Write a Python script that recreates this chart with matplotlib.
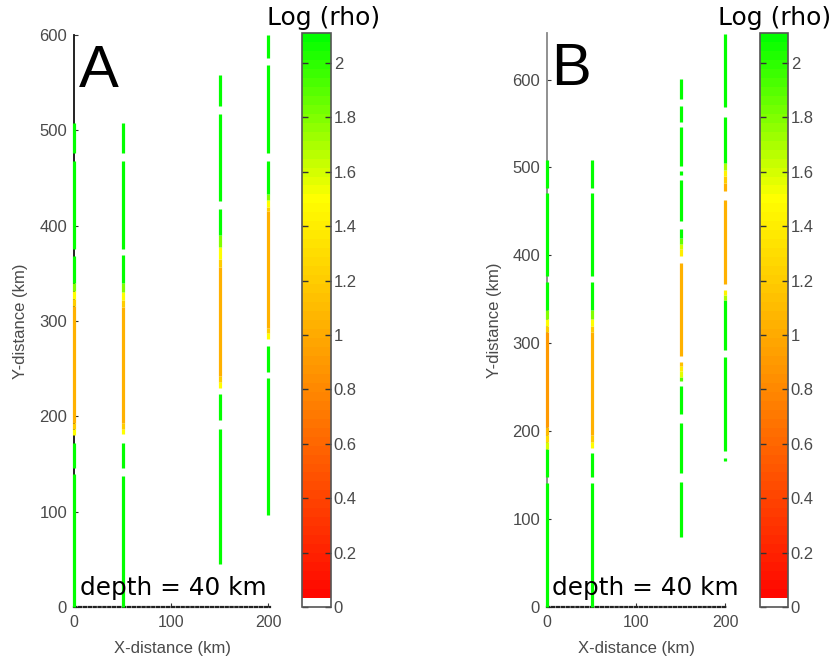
import matplotlib
matplotlib.use('Agg')
import matplotlib.pyplot as plt
import numpy as np
from matplotlib.collections import LineCollection
from matplotlib.colors import ListedColormap, Normalize
from matplotlib.cm import ScalarMappable

# ---------------- data ----------------
# station x positions (km)
stations = [0, 50, 150, 200]
G = 2.1  # saturated green
# segments per station: (y_bottom_km, y_top_km, log rho)
A_x0 = [(0, 139, G), (146, 172, G), (180, 187, 1.5), (187, 193, 1.2), (193, 316, 1.05),
        (316, 323, 1.2), (323, 331, 1.5), (331, 340, 1.8), (340, 368, G), (376, 468, G), (476, 508, G)]
A_x50 = [(0, 137, G), (146, 172, G), (181, 187, 1.5), (187, 193, 1.2), (193, 315, 1.05),
         (315, 322, 1.2), (322, 330, 1.5), (330, 340, 1.8), (340, 369, G), (376, 468, G), (476, 508, G)]
A_x150 = [(45, 187, G), (196, 223, G), (230, 236, 1.5), (236, 242, 1.2), (242, 357, 1.05),
          (357, 365, 1.2), (365, 378, 1.5), (378, 390, 1.8), (390, 418, G), (426, 517, G), (526, 558, G)]
A_x200 = [(96, 240, G), (246, 274, G), (281, 287, 1.5), (287, 293, 1.2), (293, 415, 1.05),
          (415, 420, 1.2), (420, 427, 1.5), (427, 433, 1.8), (433, 468, G), (476, 569, G), (576, 600, G)]

B_x0 = [(0, 141, G), (148, 180, G), (180, 188, 1.6), (188, 196, 1.3), (196, 205, 1.1), (205, 313, 0.9),
        (313, 320, 1.2), (320, 328, 1.5), (328, 338, 1.8), (338, 370, G), (377, 471, G), (477, 509, G)]
B_x50 = [(0, 141, G), (148, 175, G), (181, 188, 1.5), (188, 196, 1.2), (196, 313, 1.05),
         (313, 320, 1.2), (320, 328, 1.5), (328, 338, 1.8), (338, 370, G), (377, 471, G), (477, 509, G)]
B_x150 = [(80, 142, G), (152, 209, G), (220, 251, G), (257, 262, 1.9), (262, 268, 1.55), (268, 274, 1.4),
          (274, 279, 1.15), (286, 391, 1.05), (399, 407, 1.4), (407, 413, 1.6), (413, 420, 1.85),
          (420, 430, G), (439, 486, G), (492, 496, G), (502, 546, G), (552, 570, G), (578, 601, G)]
B_x200 = [(166, 170, G), (177, 284, G), (292, 349, G), (349, 355, 1.7), (355, 361, 1.45), (367, 463, 1.05),
          (473, 482, 1.05), (482, 490, 1.2), (490, 497, 1.45), (497, 505, 1.7), (505, 558, G), (569, 652, G)]

panelA = [A_x0, A_x50, A_x150, A_x200]
panelB = [B_x0, B_x50, B_x150, B_x200]

cbar_ticks = [0, 0.2, 0.4, 0.6, 0.8, 1.0, 1.2, 1.4, 1.6, 1.8, 2.0]
cbar_labels = ['0', '0.2', '0.4', '0.6', '0.8', '1', '1.2', '1.4', '1.6', '1.8', '2']
y_ticks = [0, 100, 200, 300, 400, 500, 600]
x_ticks = [0, 100, 200]

# ---------------- colormap ----------------
VMAX = 2.11
N = 64
cols = []
for i in range(N):
    v = (i + 0.5) / N * VMAX
    if i == 0:
        cols.append((1, 1, 1))
    elif v <= 1.5:
        cols.append((1, v / 1.5, 0))
    else:
        cols.append((max(0.0, 1 - (v - 1.5) / 0.6), 1, 0))
cmap = ListedColormap(cols)
norm = Normalize(0, VMAX)

# ---------------- figure ----------------
W, H = 832, 657
fig = plt.figure(figsize=(W / 100, H / 100), dpi=100)


def ax_px(l, t, r, b):
    return fig.add_axes([l / W, 1 - b / H, (r - l) / W, (b - t) / H])


TICKC = '#4a4a4a'
TF = 'Liberation Sans'


def make_panel(rect, ylim, data, letter, spinec, ylabx, cbrect, lbl_x):
    ax = ax_px(*rect)
    ax.set_xlim(0, 202)
    ax.set_ylim(0, ylim)
    segs, vals = [], []
    for x, pieces in zip(stations, data):
        for y0, y1, v in pieces:
            segs.append([(x, y0), (x, y1)])
            vals.append(v)
    lc = LineCollection(segs, cmap=cmap, norm=norm, linewidths=2.3, capstyle='butt', zorder=5)
    lc.set_array(np.array(vals))
    lc.set_clip_on(False)
    ax.add_collection(lc)
    for s in ['top', 'right']:
        ax.spines[s].set_visible(False)
    ax.spines['left'].set_color(spinec)
    ax.spines['left'].set_linewidth(1.3)
    ax.spines['bottom'].set_linestyle((0, (1, 1.2)))
    ax.spines['bottom'].set_linewidth(1.6)
    ax.spines['bottom'].set_color('#222222')
    ax.set_yticks(y_ticks)
    ax.set_xticks(x_ticks)
    ax.tick_params(direction='in', length=3, width=0.8, labelcolor=TICKC, color='#333333')
    ax.tick_params(axis='y', pad=5, labelsize=12)
    ax.tick_params(axis='x', pad=6, labelsize=11.5)
    for t in ax.get_xticklabels() + ax.get_yticklabels():
        t.set_fontfamily(TF)
    ax.set_xlabel('X-distance (km)', fontsize=12, color=TICKC, family=TF, labelpad=8)
    ax.set_ylabel('Y-distance (km)', fontsize=12, color=TICKC, family=TF)
    ax.yaxis.set_label_coords(ylabx, 0.5)
    ax.patch.set_alpha(0)
    ax.text(0.025, 0.985, letter, transform=ax.transAxes, fontsize=43, family=TF,
            ha='left', va='top', color='black')
    ax.text(0.03, 0.012, 'depth = 40 km', transform=ax.transAxes, fontsize=17.8,
            family='DejaVu Sans', ha='left', va='bottom', color='black', zorder=6)

    cax = ax_px(*cbrect)
    sm = ScalarMappable(norm=norm, cmap=cmap)
    cb = fig.colorbar(sm, cax=cax, ticks=cbar_ticks)
    cb.ax.set_yticklabels(cbar_labels)
    cb.outline.set_edgecolor('#555555')
    cb.outline.set_linewidth(1.2)
    cax.tick_params(direction='in', left=True, right=True, length=4, width=1,
                    labelsize=12, labelcolor=TICKC, color='#333333', pad=2)
    for t in cax.get_yticklabels():
        t.set_fontfamily(TF)
    fig.text(lbl_x / W, 1 - 18 / H, 'Log (rho)', fontsize=18, family='DejaVu Sans',
             ha='center', va='center', color='black')
    return ax


make_panel((74, 35, 270, 607), 600, panelA, 'A', '#111111', -0.235, (302, 33, 331, 607), 324)
make_panel((547, 33, 727, 607), 653, panelB, 'B', '#888888', -0.25, (760, 33, 788, 607), 775)

fig.savefig('out.png', dpi=100)
